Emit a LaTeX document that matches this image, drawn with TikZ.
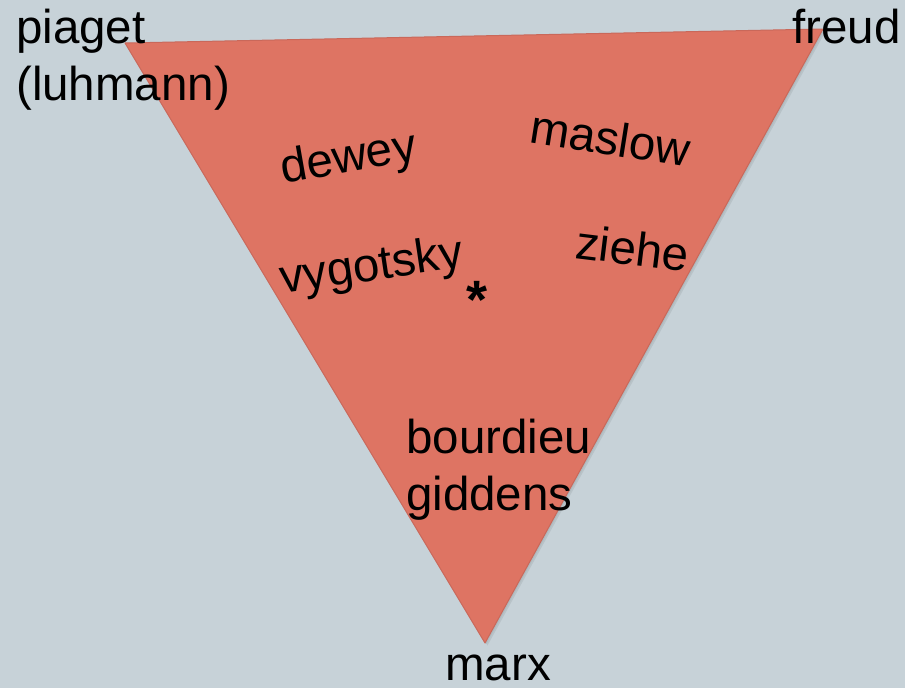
\documentclass[tikz,border=0pt]{standalone}
\usepackage{fontspec}
\setmainfont{Liberation Sans}
\definecolor{bgcol}{HTML}{C7D2D8}
\definecolor{trifill}{HTML}{DE7463}
\definecolor{triedge}{HTML}{C9685A}
\definecolor{shadowcol}{HTML}{9EA8AD}
\tikzset{
  lbl/.style={inner sep=0pt, font=\fontsize{47.5}{57}\selectfont, text=black},
}
\begin{document}
\begin{tikzpicture}[x=1pt,y=-1pt]
\useasboundingbox (0,0) rectangle (905,688);
\fill[bgcol] (0,0) rectangle (905,688);
% vertices
\coordinate (tl) at (125,43);
\coordinate (tr) at (823,29);
\coordinate (bt) at (485,643);
% soft shadow
\fill[shadowcol, opacity=0.35] ([shift={(2.5,2.5)}]tl) -- ([shift={(2.5,2.5)}]tr) -- ([shift={(2.5,2.5)}]bt) -- cycle;
\fill[shadowcol, opacity=0.35] ([shift={(1.2,1.2)}]tl) -- ([shift={(1.2,1.2)}]tr) -- ([shift={(1.2,1.2)}]bt) -- cycle;
\filldraw[fill=trifill, draw=triedge, line width=1pt, line join=round] (tl) -- (tr) -- (bt) -- cycle;
% corner labels
\node[lbl, anchor=base west] (piaget) at (16,43) {piaget};
\node[lbl, anchor=base west] (luhmann) at (16,100) {(luhmann)};
\node[lbl, anchor=base east] (freud) at (901,43) {freud};
\node[lbl, anchor=base] (marx) at (498,680) {marx};
% inner labels
\node[lbl, anchor=base west, rotate=10] (dewey) at (283,184) {dewey};
\node[lbl, anchor=base west, rotate=-9] (maslow) at (528,142) {maslow};
\node[lbl, anchor=base west, rotate=8.5] (vygotsky) at (282,294) {vygotsky};
\node[lbl, anchor=base west, rotate=-7] (ziehe) at (574,258) {ziehe};
\node[inner sep=0pt, font=\fontsize{54}{60}\selectfont\bfseries, anchor=base] (star) at (477,318) {*};
\node[lbl, anchor=base west] (bourdieu) at (406,453) {bourdieu};
\node[lbl, anchor=base west] (giddens) at (406,510) {giddens};
\end{tikzpicture}
\end{document}
